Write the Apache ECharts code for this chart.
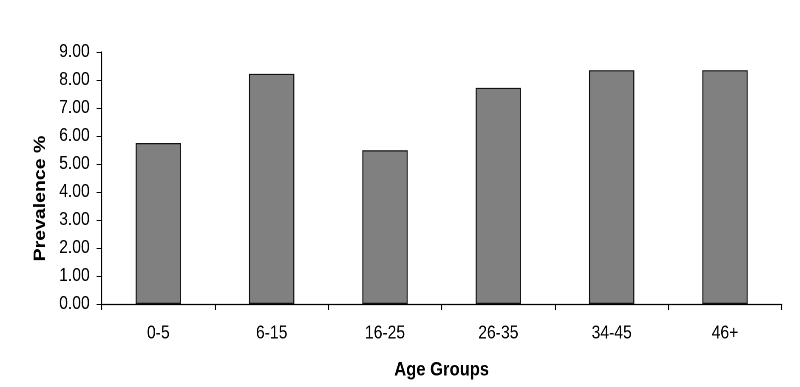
<!DOCTYPE html>
<html>
<head>
<meta charset="utf-8">
<script src="https://cdn.jsdelivr.net/npm/echarts@6/dist/echarts.min.js"></script>
<style>
html,body{margin:0;padding:0;background:#fff;overflow:hidden}
#wrap{width:800px;height:387px;overflow:hidden;position:relative}
#c{width:941px;height:387px;transform:scaleX(0.85);transform-origin:0 0;position:absolute;left:0;top:0}
</style>
</head>
<body>
<div id="wrap"><div id="c"></div></div>
<script>
var categories = ['0-5', '6-15', '16-25', '26-35', '34-45', '46+'];
var prevalence = [5.75, 8.22, 5.49, 7.72, 8.35, 8.35];
var yTicks = [0, 1, 2, 3, 4, 5, 6, 7, 8, 9];

var FONT = "'Liberation Sans', Arial, sans-serif";
var chart = echarts.init(document.getElementById('c'), null, {renderer: 'canvas', devicePixelRatio: 2});
chart.setOption({
  animation: false,
  backgroundColor: '#fff',
  grid: {left: 119.6, right: 21.4, top: 52, bottom: 83},
  xAxis: {
    type: 'category',
    data: categories,
    name: 'Age Groups',
    nameLocation: 'middle',
    nameGap: 56,
    nameTextStyle: {fontFamily: FONT, fontSize: 19.5, fontWeight: 'bold', color: '#000'},
    axisLine: {lineStyle: {color: '#000', width: 1.2}},
    axisTick: {show: true, length: 6, lineStyle: {color: '#000', width: 1.2}},
    axisLabel: {fontFamily: FONT, fontSize: 18.5, color: '#000', margin: 20}
  },
  yAxis: {
    type: 'value',
    min: yTicks[0],
    max: yTicks[yTicks.length - 1],
    interval: 1,
    name: 'Prevalence %',
    nameLocation: 'middle',
    nameRotate: 90,
    nameGap: 62,
    nameTextStyle: {fontFamily: FONT, fontSize: 19.5, fontWeight: 'bold', color: '#000', padding: [0, 41, 0, 0]},
    axisLine: {show: true, lineStyle: {color: '#000', width: 1.2}},
    axisTick: {show: true, length: 6, lineStyle: {color: '#000'}},
    splitLine: {show: false},
    axisLabel: {fontFamily: FONT, fontSize: 18.5, color: '#000', margin: 14,
      formatter: function (v) { return v.toFixed(2); }}
  },
  series: [{
    type: 'bar',
    data: prevalence,
    barWidth: '40%',
    itemStyle: {color: '#808080', borderColor: '#111', borderWidth: 1.2}
  }]
});
</script>
</body>
</html>
